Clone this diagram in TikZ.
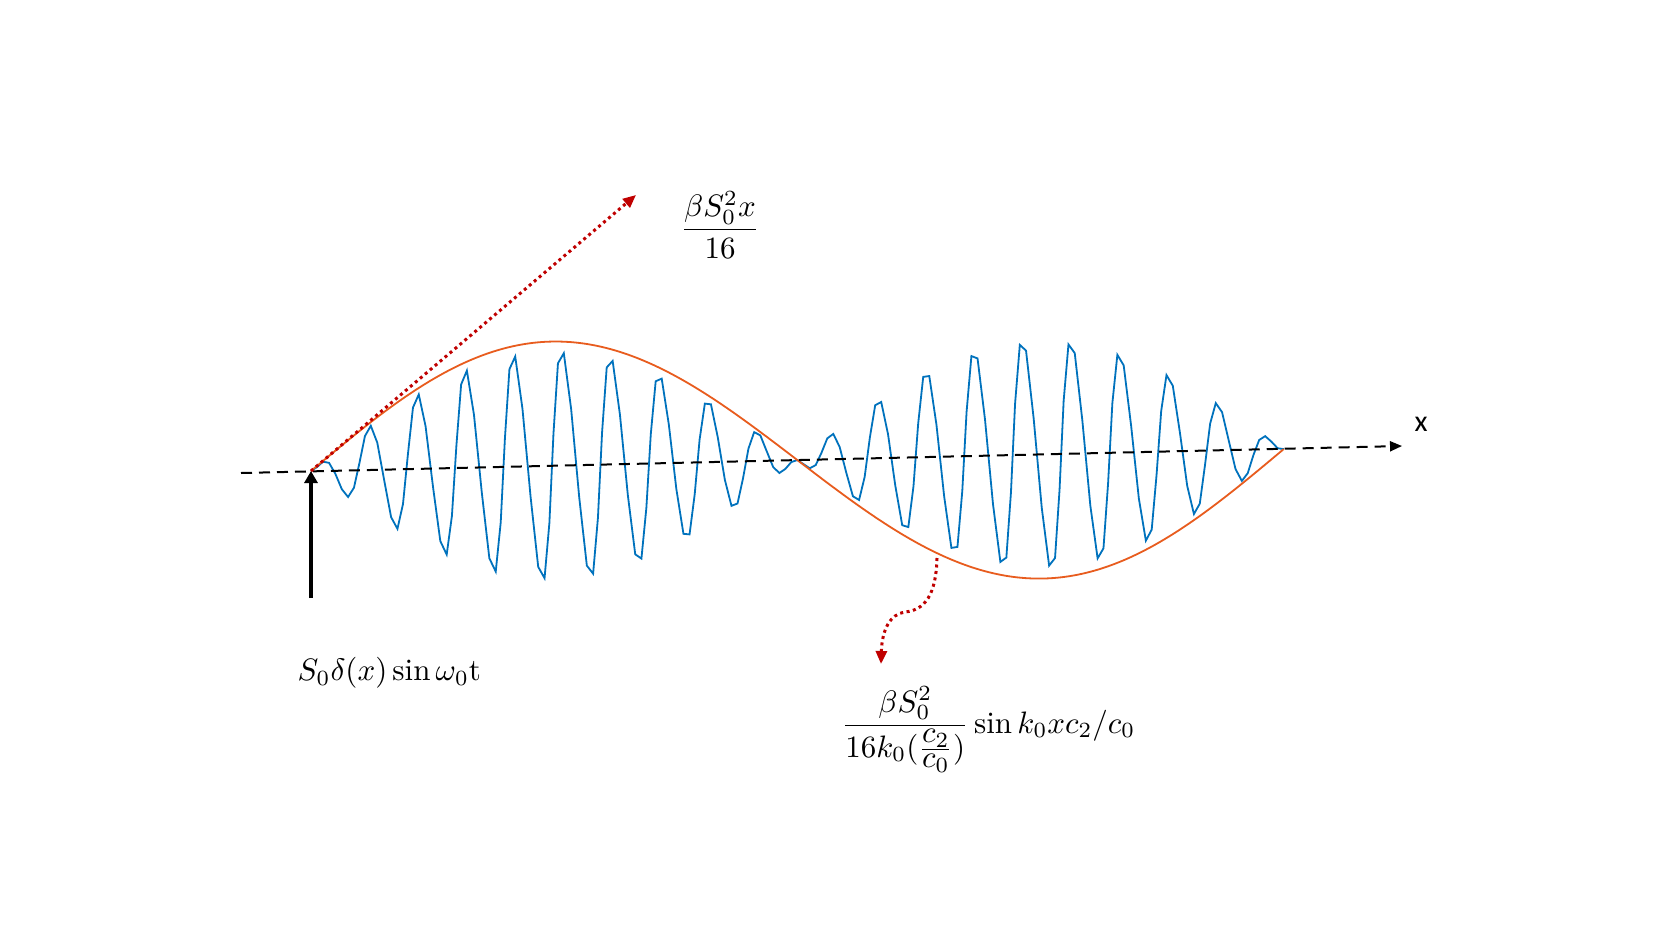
\documentclass[tikz,border=0pt]{standalone}
\usepackage{fontspec}
\newfontfamily\carlito{Carlito}
\usetikzlibrary{arrows.meta}
\definecolor{wblue}{RGB}{0,114,189}
\definecolor{worange}{RGB}{232,92,30}
\definecolor{wred}{RGB}{192,0,0}
\begin{document}
\begin{tikzpicture}[x=1pt,y=-1pt,
  wave/.style={wblue, line width=1.8pt, line join=miter},
  envelope/.style={worange, line width=1.8pt},
  axisline/.style={black, line width=2pt, dash pattern=on 11pt off 7pt, -{Triangle[length=12pt,width=10pt]}},
  redarrow/.style={wred, line width=3pt, dash pattern=on 3pt off 3.5pt, -{Triangle[length=13pt,width=11pt]}},
  srcarrow/.style={black, line width=3.5pt, -{Triangle[length=12pt,width=13pt]}},
  lab/.style={scale=3.1, inner sep=0pt}]
\fill[white] (0,0) rectangle (1661,934);
\useasboundingbox (0,0) rectangle (1661,934);
\coordinate (src) at (311,471);
\coordinate (axL) at (241,473);
\coordinate (axR) at (1402,446);
\coordinate (base) at (311,598);
\coordinate (tanTip) at (636,195);
\coordinate (envPt) at (937,558);
\coordinate (curTip) at (881,664);
\begin{scope}[shift={(src)}, rotate=1.29]
  \draw[wave] plot[domain=0:973, samples=161] (\x, {117*sin(0.369990*\x)*cos(7.42268*(\x-35))});
  \draw[envelope] plot[domain=0:973, samples=120, smooth] (\x, {-124*sin(0.369990*\x)});
\end{scope}
\draw[axisline] (axL) -- (axR);
\draw[redarrow] (src) -- (tanTip);
\draw[redarrow] (envPt) .. controls (936,595) and (925,610) .. (905,612) .. controls (890,614) and (882,630) .. (curTip);
\draw[srcarrow] (base) -- (src);
\node[lab, anchor=west] (srcLabel) at (297,673) {$S_0\delta(x)\sin\omega_0\mathrm{t}$};
\node[lab] (tanLabel) at (720,225) {$\displaystyle\frac{\beta S_0^2 x}{16}$};
\node[lab, anchor=base west] (envLabel) at (841,733) {$\displaystyle\frac{\beta S_0^2}{16k_0({\textstyle\frac{\textstyle c_2}{\textstyle c_0}})}\sin k_0xc_2/c_0$};
\node[font=\carlito\fontsize{30}{34}\selectfont, inner sep=0pt] (xLabel) at (1421,424) {x};
\end{tikzpicture}
\end{document}
